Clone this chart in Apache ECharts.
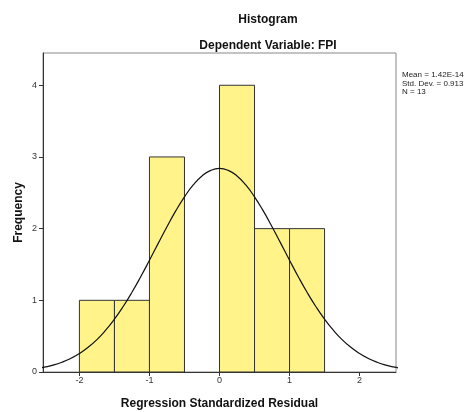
<!DOCTYPE html>
<html><head><meta charset="utf-8">
<script src="https://cdn.jsdelivr.net/npm/echarts@6/dist/echarts.min.js"></script>
<style>html,body{margin:0;padding:0;background:#fff}#c{width:470px;height:412px}</style>
</head><body><div id="c"></div>
<script>
// Histogram bins: [start, end]
var binStarts = [-2.0, -1.5, -1.0, -0.5, 0.0, 0.5, 1.0];
var binEnds   = [-1.5, -1.0, -0.5,  0.0, 0.5, 1.0, 1.5];
var frequencies = [1, 1, 3, 0, 4, 2, 2];
// Normal curve
var curveX = [-2.55,-2.5,-2.375,-2.25,-2.125,-2.0,-1.875,-1.75,-1.625,-1.5,-1.375,-1.25,-1.125,-1.0,-0.875,-0.75,-0.625,-0.5,-0.375,-0.25,-0.125,0,0.125,0.25,0.375,0.5,0.625,0.75,0.875,1.0,1.125,1.25,1.375,1.5,1.625,1.75,1.875,2.0,2.125,2.25,2.375,2.5,2.55];
var curveY = [0.058,0.067,0.096,0.136,0.189,0.258,0.345,0.452,0.583,0.737,0.914,1.112,1.329,1.559,1.794,2.027,2.247,2.444,2.610,2.735,2.813,2.84,2.813,2.735,2.610,2.444,2.247,2.027,1.794,1.559,1.329,1.112,0.914,0.737,0.583,0.452,0.345,0.258,0.189,0.136,0.096,0.067,0.058];
var xTicks = [-2, -1, 0, 1, 2];
var yTicks = [0, 1, 2, 3, 4];
var statsLines = ['Mean = 1.42E-14', 'Std. Dev. = 0.913', 'N = 13'];

var binData = binStarts.map(function(s, i){ return [s, binEnds[i], frequencies[i]]; }).filter(function(d){ return d[2] > 0; });
var curveData = curveX.map(function(x, i){ return [x, curveY[i]]; });

var chart = echarts.init(document.getElementById('c'), null, {renderer: 'canvas'});
var font = 'Arial, "Liberation Sans", sans-serif';
chart.setOption({
  animation: false,
  backgroundColor: '#fff',
  title: [
    {text: 'Histogram', left: 263, top: 9, textAlign: 'center',
     textStyle: {fontFamily: font, fontSize: 12, fontWeight: 'bold', color: '#111'}},
    {text: 'Dependent Variable: FPI', left: 263, top: 35, textAlign: 'center',
     textStyle: {fontFamily: font, fontSize: 12, fontWeight: 'bold', color: '#111'}}
  ],
  graphic: [{
    type: 'text', left: 402, top: 71,
    style: {text: statsLines.join('\n'), font: '8px ' + font, fill: '#222', lineHeight: 8.5}
  }],
  grid: {left: 43, right: 74, top: 53, bottom: 40, show: true, borderColor: '#888', borderWidth: 1,
         outerBoundsMode: 'none', containLabel: false},
  xAxis: {
    type: 'value', min: -2.52, max: 2.52,
    name: 'Regression Standardized Residual', nameLocation: 'middle', nameGap: 26,
    nameTextStyle: {fontFamily: font, fontSize: 12, fontWeight: 'bold', color: '#111'},
    axisLine: {show: true, onZero: false, lineStyle: {color: '#333', width: 1}},
    axisTick: {show: true, length: 4, lineStyle: {color: '#333'}, customValues: xTicks},
    axisLabel: {fontFamily: font, fontSize: 9, color: '#333', margin: 4, customValues: xTicks},
    splitLine: {show: false}
  },
  yAxis: {
    type: 'value', min: 0, max: 4.45,
    name: 'Frequency', nameLocation: 'middle', nameGap: 18, nameRotate: 90, nameMoveOverlap: false,
    nameTextStyle: {fontFamily: font, fontSize: 12, fontWeight: 'bold', color: '#111'},
    axisLine: {show: true, onZero: false, lineStyle: {color: '#333', width: 1}},
    axisTick: {show: true, length: 4, inside: false, lineStyle: {color: '#333'}, customValues: yTicks},
    axisLabel: {fontFamily: font, fontSize: 9, color: '#333', margin: 6, customValues: yTicks},
    splitLine: {show: false}
  },
  series: [
    {
      type: 'custom',
      data: binData,
      encode: {x: [0, 1], y: 2},
      renderItem: function(params, api){
        var p0 = api.coord([api.value(0), api.value(2)]);
        var p1 = api.coord([api.value(1), 0]);
        return {
          type: 'rect',
          shape: {x: p0[0], y: p0[1], width: p1[0] - p0[0], height: p1[1] - p0[1]},
          style: {fill: '#fff38a', stroke: '#333', lineWidth: 1}
        };
      },
      z: 2
    },
    {
      type: 'line', data: curveData, smooth: true, showSymbol: false,
      lineStyle: {color: '#111', width: 1.2}, z: 3
    }
  ]
});
</script></body></html>
